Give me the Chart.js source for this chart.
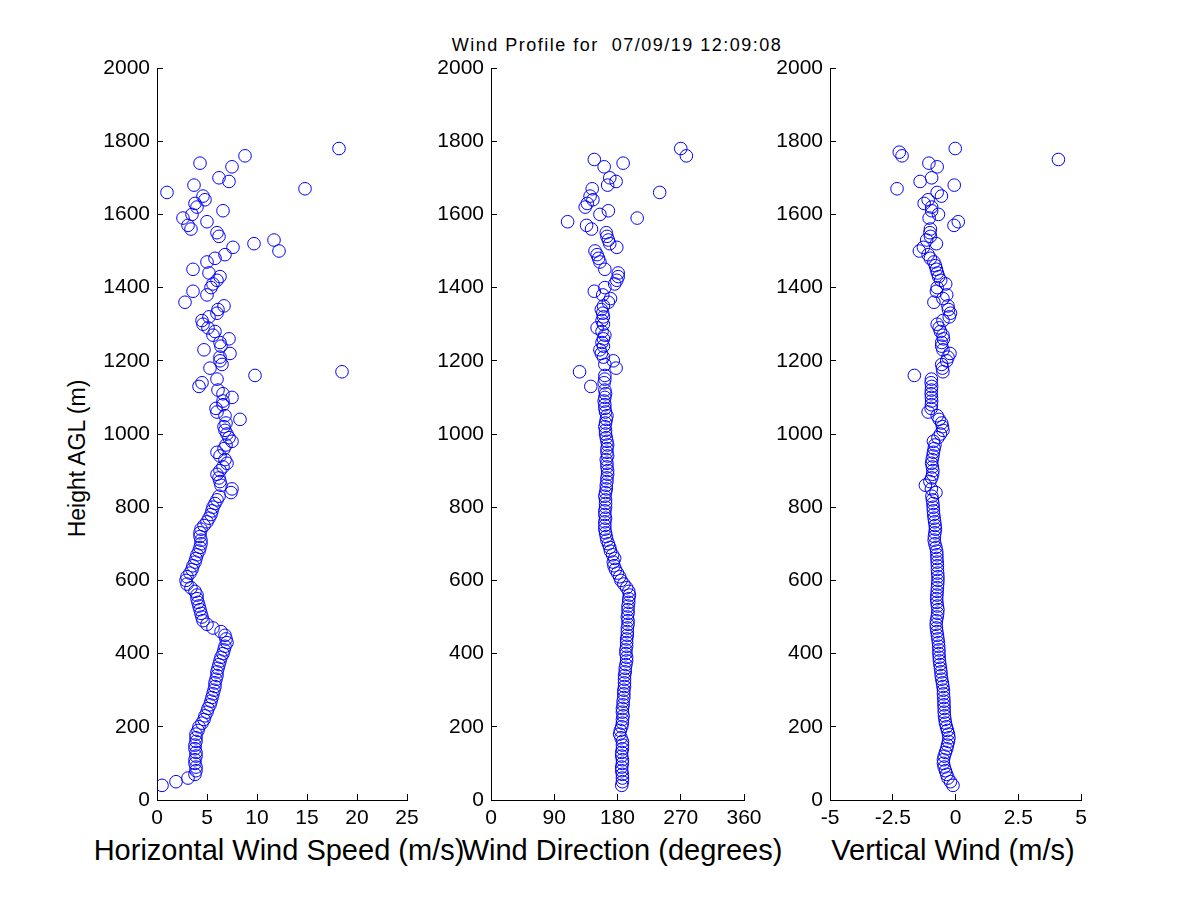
<!DOCTYPE html>
<html>
<head>
<meta charset="utf-8">
<script src="https://cdn.jsdelivr.net/npm/chart.js@4/dist/chart.umd.min.js"></script>
<style>
    body { margin: 0; background: #fff; }
    #wrap { position: relative; width: 1200px; height: 900px; font-family: "Liberation Sans", Arial, sans-serif; color: #000; }
    canvas { position: absolute; left: 0; top: 0; }
    .lbl { position: absolute; text-align: center; white-space: nowrap; }
    #title { left: 317px; width: 600px; top: 34px; font-size: 18px; line-height: 22px; letter-spacing: 1.5px; }
    .xlab { top: 834px; width: 420px; font-size: 29px; line-height: 33px; }
    #ylab { left: -23px; top: 445px; width: 200px; font-size: 23px; line-height: 27px; transform: rotate(-90deg); }
</style>
</head>
<body>
<div id="wrap">
    <div class="lbl" id="title">Wind Profile for&nbsp; 07/09/19 12:09:08</div>
    <div class="lbl xlab" style="left: 69px;">Horizontal Wind Speed (m/s)</div>
    <div class="lbl xlab" style="left: 412px;">Wind Direction (degrees)</div>
    <div class="lbl xlab" style="left: 743px;">Vertical Wind (m/s)</div>
    <div class="lbl" id="ylab">Height AGL (m)</div>
    <canvas id="speedChart" width="1200" height="900"></canvas>
    <canvas id="dirChart" width="1200" height="900"></canvas>
    <canvas id="vertChart" width="1200" height="900"></canvas>
</div>
<script>
// range gates (m AGL)
const heights = [
    40, 50, 60, 70, 80, 90, 100, 110, 120, 130,
    140, 150, 160, 170, 180, 190, 200, 210, 220, 230,
    240, 250, 260, 270, 280, 290, 300, 310, 320, 330,
    340, 350, 360, 370, 380, 390, 400, 410, 420, 430,
    440, 450, 460, 470, 480, 490, 500, 510, 520, 530,
    540, 550, 560, 570, 580, 590, 600, 610, 620, 630,
    640, 650, 660, 670, 680, 690, 700, 710, 720, 730,
    740, 750, 760, 770, 780, 790, 800, 810, 820, 830,
    840, 850, 860, 870, 880, 890, 900, 910, 920, 930,
    940, 950, 960, 970, 980, 990, 1000, 1010, 1020, 1030,
    1040, 1050, 1060, 1070, 1080, 1090, 1100, 1110, 1120, 1130,
    1140, 1150, 1160, 1170, 1180, 1190, 1200, 1210, 1220, 1230,
    1240, 1250, 1260, 1270, 1280, 1290, 1300, 1310, 1320, 1330,
    1340, 1350, 1360, 1370, 1380, 1390, 1400, 1410, 1420, 1430,
    1440, 1450, 1460, 1470, 1480, 1490, 1500, 1510, 1520, 1530,
    1540, 1550, 1560, 1570, 1580, 1590, 1600, 1610, 1620, 1630,
    1640, 1650, 1660, 1670, 1680, 1690, 1700, 1710, 1720, 1730,
    1740, 1750, 1760, 1770, 1780
];

// horizontal wind speed (m/s)
const speed = [
    0.5, 1.9, 3.1, 3.8, 3.9, 3.9, 3.8, 3.8, 3.9, 3.9,
    3.8, 3.8, 3.9, 3.9, 3.9, 4.1, 4.2, 4.5, 4.7, 4.8,
    5.0, 5.1, 5.3, 5.4, 5.5, 5.6, 5.7, 5.8, 5.8, 5.9,
    6.0, 6.0, 6.1, 6.2, 6.3, 6.4, 6.6, 6.7, 6.8, 7.0,
    6.9, 6.8, 6.4, 5.6, 5.0, 4.6, 4.5, 4.4, 4.3, 4.2,
    4.1, 4.0, 4.0, 3.8, 3.4, 3.0, 2.9, 3.0, 3.3, 3.5,
    3.6, 3.8, 3.9, 4.0, 4.2, 4.3, 4.4, 4.4, 4.3, 4.3,
    4.4, 4.7, 5.0, 5.2, 5.4, 5.5, 5.6, 5.8, 6.0, 6.2,
    7.4, 7.5, 6.4, 6.3, 6.2, 6.0, 6.3, 6.6, 7.0, 6.8,
    6.3, 6.0, 6.7, 6.9, 7.5, 7.2, 7.0, 6.8, 6.7, 6.9,
    8.3, 6.8, 6.0, 5.9, 6.6, 6.6, 7.5, 6.6, 6.1, 4.2,
    4.5, 6.0, 9.8, 18.5, 5.3, 6.5, 6.3, 6.3, 7.3, 4.7,
    6.4, 6.3, 7.2, 5.6, 5.8, 5.1, 4.6, 4.5, 5.2, 6.0,
    6.1, 6.7, 2.8, null, 5.0, 3.6, 5.4, 5.6, 6.0, 6.3,
    5.2, 3.6, null, 5.0, 5.8, 6.8, 12.2, 7.6, 9.7, 11.7,
    6.2, 6.0, 3.4, 3.1, 5.0, 2.6, 3.5, 6.6, 4.0, 3.8,
    4.8, 4.6, 1.0, 14.8, 3.7, 7.2, 6.2, null, null, 7.5,
    4.3, null, 8.8, null, 18.2
];

// wind direction (degrees)
const direction = [
    186, 187, 187, 187, 186, 186, 187, 187, 186, 186,
    187, 187, 187, 185, 183, 184, 186, 187, 187, 188,
    187, 187, 188, 188, 189, 189, 189, 190, 190, 190,
    190, 191, 191, 192, 193, 193, 192, 192, 193, 193,
    193, 194, 194, 194, 195, 195, 194, 195, 195, 195,
    196, 196, 197, 196, 193, 189, 185, 183, 180, 177,
    175, 174, 176, 173, 170, 169, 167, 165, 164, 163,
    162, 162, 162, 163, 162, 162, 163, 163, 163, 162,
    163, 164, 164, 165, 165, 166, 166, 165, 165, 164,
    166, 165, 165, 166, 165, 164, 163, 163, 162, 163,
    164, 165, 163, 162, 162, 161, 162, 163, 162, 142,
    161, 162, 162, 126, 178, 162, 174, 160, 157, 155,
    160, 158, 160, 162, 158, 151, 160, 158, 160, 159,
    157, 160, 167, 170, 159, 147, 162, 176, 179, 181,
    181, 162, null, 155, 153, 151, 148, 179, 169, 167,
    165, 164, 143, 136, 109, 208, 155, 167, 134, 137,
    145, 141, 240, 144, 166, 178, 169, null, null, 161,
    188, 147, 278, null, 270
];

// vertical wind (m/s)
const vertical = [
    -0.1, -0.2, -0.3, -0.35, -0.4, -0.45, -0.48, -0.48, -0.45, -0.4,
    -0.35, -0.32, -0.28, -0.26, -0.28, -0.32, -0.36, -0.4, -0.42, -0.44,
    -0.45, -0.45, -0.46, -0.46, -0.47, -0.48, -0.48, -0.5, -0.52, -0.55,
    -0.57, -0.58, -0.6, -0.62, -0.64, -0.65, -0.66, -0.66, -0.67, -0.68,
    -0.7, -0.72, -0.74, -0.76, -0.77, -0.76, -0.73, -0.71, -0.7, -0.72,
    -0.74, -0.75, -0.74, -0.73, -0.72, -0.71, -0.7, -0.7, -0.71, -0.72,
    -0.72, -0.73, -0.74, -0.74, -0.75, -0.78, -0.82, -0.85, -0.84, -0.82,
    -0.8, -0.81, -0.83, -0.85, -0.87, -0.88, -0.89, -0.9, -0.92, -0.94,
    -0.78, -0.96, -1.2, -1.02, -0.95, -0.91, -0.9, -0.92, -0.95, -0.93,
    -0.9, -0.88, -0.85, -0.82, -0.88, -0.7, -0.6, -0.5, -0.52, -0.55,
    -0.65, -0.73, -1.09, -0.97, -0.96, -0.95, -0.96, -0.97, -0.96, -0.95,
    -0.97, -0.96, -1.64, -0.5, -0.52, -0.55, -0.35, -0.3, -0.22, -0.5,
    -0.55, -0.55, -0.48, -0.5, -0.6, -0.65, -0.73, -0.5, -0.25, -0.2,
    -0.28, -0.3, -0.86, -0.5, -0.35, -0.76, -0.73, -0.39, -0.59, -0.67,
    -0.72, -0.76, -0.8, -0.86, -1.0, -1.09, -1.44, -1.28, -0.76, -1.15,
    -1.0, -1.02, -1.0, -0.06, 0.11, -1.05, -0.68, -0.95, -0.95, -1.25,
    -1.09, -0.56, -0.73, -2.33, -0.05, -1.41, -0.95, null, null, -0.73,
    -1.06, 4.1, -2.13, -2.24, -0.01
];

const heightTicks = [0, 200, 400, 600, 800, 1000, 1200, 1400, 1600, 1800, 2000];
const speedTicks = [0, 5, 10, 15, 20, 25];
const dirTicks = [0, 90, 180, 270, 360];
const vertTicks = [-5, -2.5, 0, 2.5, 5];

const Y_AXIS_W = 80;
const X_AXIS_H = 50;
const tickFont = { family: "'Liberation Sans', Arial, sans-serif", size: 21 };

function makePanel(id, values, xTicks, left, right) {
    const points = [];
    heights.forEach((h, i) => {
        if (values[i] !== null) points.push({ x: values[i], y: h });
    });

    return new Chart(document.getElementById(id).getContext("2d"), {
        type: "scatter",
        data: {
            datasets: [{
                data: points,
                pointStyle: "circle",
                pointRadius: 6.3,
                pointBorderWidth: 1,
                borderColor: "#0000ff",
                backgroundColor: "rgba(0,0,0,0)",
                showLine: false
            }]
        },
        options: {
            responsive: false,
            animation: false,
            devicePixelRatio: 1,
            layout: {
                padding: { left: left - Y_AXIS_W, right: 1200 - right, top: 68, bottom: 900 - 800 - X_AXIS_H }
            },
            plugins: { legend: { display: false }, tooltip: { enabled: false } },
            scales: {
                x: {
                    type: "linear",
                    min: xTicks[0],
                    max: xTicks[xTicks.length - 1],
                    afterBuildTicks: s => { s.ticks = xTicks.map(v => ({ value: v })); },
                    afterFit: s => { s.height = X_AXIS_H; },
                    // negative tick length -> ticks point into the plot
                    grid: { drawOnChartArea: false, tickLength: -6, color: "#000" },
                    border: { color: "#000", width: 1 },
                    ticks: { color: "#000", font: tickFont, padding: 12, autoSkip: false, maxRotation: 0, callback: v => String(v) }
                },
                y: {
                    type: "linear",
                    min: 0,
                    max: 2000,
                    afterBuildTicks: s => { s.ticks = heightTicks.map(v => ({ value: v })); },
                    afterFit: s => { s.width = Y_AXIS_W; },
                    grid: { drawOnChartArea: false, tickLength: -6, color: "#000" },
                    border: { color: "#000", width: 1 },
                    ticks: { color: "#000", font: tickFont, padding: 13, autoSkip: false, callback: v => String(v) }
                }
            }
        }
    });
}

makePanel("speedChart", speed, speedTicks, 157, 407);
makePanel("dirChart", direction, dirTicks, 491, 744);
makePanel("vertChart", vertical, vertTicks, 830, 1081);
</script>
</body>
</html>
